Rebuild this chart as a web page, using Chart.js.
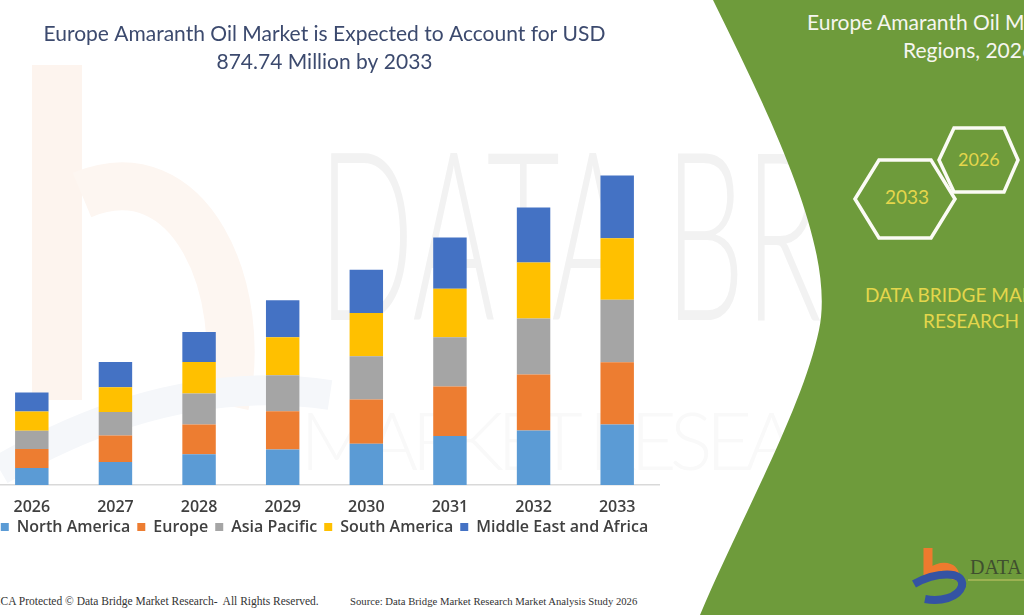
<!DOCTYPE html>
<html>
<head>
<meta charset="utf-8">
<script src="https://cdn.jsdelivr.net/npm/chart.js@4.4.1/dist/chart.umd.min.js"></script>
<style>
  html, body { margin: 0; padding: 0; }
  body { width: 1024px; height: 615px; overflow: hidden; position: relative; background: #fff; font-family: Lato, sans-serif; }
  #bg { position: absolute; left: 0; top: 0; }
  #wrap { position: absolute; left: -40px; top: 0; width: 740px; height: 545px; }
  .txt { position: absolute; white-space: nowrap; }
  .side { color: #f6f6f0; font-size: 21px; }
  .brand { color: #e4d64c; font-size: 19px; }
  .foot { font-family: "Liberation Serif", serif; font-size: 11px; color: #333; top: 595px; }
</style>
</head>
<body>
<svg id="bg" width="1024" height="615">
  <!-- faded logo watermark -->
  <path d="M57,65 L57,400" stroke="#fdf4ee" stroke-width="50" fill="none"/>
  <path d="M82,195 C190,150 250,290 225,405" stroke="#fdf6f1" stroke-width="48" fill="none"/>
  <path d="M0,470 C120,400 230,380 330,395" stroke="#f5f7fa" stroke-width="30" fill="none"/>
  <text x="318" y="320" font-family="Lato" font-weight="300" font-size="236" fill="#f2f2f2"
        textLength="800" lengthAdjust="spacingAndGlyphs">DATA BRIDGE</text>
  <text x="300" y="470" font-family="Lato" font-weight="300" font-size="80" fill="#f9f9f9"
        textLength="640" lengthAdjust="spacing">MARKET RESEARCH</text>
  <!-- green panel -->
  <path d="M713,0 C772,120 836,250 819,330 C802,410 740,520 700,615 L1024,615 L1024,0 Z" fill="#6e9b3b"/>
  <!-- hexagons -->
  <polygon points="855,199 879,160 931,160 955,199 931,238 879,238" fill="none" stroke="#fbfbf5" stroke-width="3.5"/>
  <polygon points="939,160 954,128 1004,128 1018,160 1004,192 954,192" fill="none" stroke="#fbfbf5" stroke-width="3.5"/>
  <!-- small logo -->
  <path d="M928,548 L928,575" stroke="#ee7a2e" stroke-width="9" fill="none"/>
  <path d="M930,572 C945,562 958,568 955,580" stroke="#ee7a2e" stroke-width="8" fill="none"/>
  <path d="M914,584 C935,572 965,570 962,586 C958,598 940,602 925,599" stroke="#3453a3" stroke-width="8" fill="none"/>
  <line x1="968" y1="580" x2="1024" y2="580" stroke="#c9c96a" stroke-width="1"/>
</svg>

<div class="txt side" style="left:807px; top:9px;">Europe Amaranth Oil Market, By</div>
<div class="txt side" style="left:903px; top:37px;">Regions, 2026 to 2033</div>
<div class="txt brand" style="left:885px; top:185px;">2033</div>
<div class="txt brand" style="left:958px; top:148px; font-size:18px;">2026</div>
<div class="txt brand" style="left:865px; top:283px;">DATA BRIDGE MARKET</div>
<div class="txt brand" style="left:923px; top:309px;">RESEARCH</div>
<div class="txt" style="left:970px; top:556px; font-family:'Liberation Serif',serif; font-size:20px; color:#3f4f2f;">DATA BRIDGE</div>
<div class="txt foot" style="left:-18px; font-size:11.5px;">DMCA Protected © Data Bridge Market Research-&nbsp; All Rights Reserved.</div>
<div class="txt foot" style="left:350px; font-size:10.7px;">Source: Data Bridge Market Research Market Analysis Study 2026</div>

<div id="wrap"><canvas id="marketChart"></canvas></div>

<script>
// values in USD million
const years = ['2026', '2027', '2028', '2029', '2030', '2031', '2032', '2033'];
const northAmerica = [48.0, 64.9, 86.6, 100.7, 116.6, 138.3, 154.4, 171.3];
const europe = [53.6, 75.3, 84.7, 108.1, 125.3, 140.3, 158.0, 175.8];
const asiaPacific = [51.6, 65.8, 87.5, 101.6, 122.2, 139.1, 158.0, 176.9];
const southAmerica = [54.5, 70.5, 89.2, 107.2, 122.2, 137.4, 158.9, 173.8];
const middleEastAfrica = [53.6, 71.4, 84.7, 104.4, 122.5, 144.8, 155.2, 176.9];

const labelFont = { family: "'Open Sans', sans-serif", size: 16, weight: '600', lineHeight: 1 };

const ctx = document.getElementById('marketChart').getContext('2d');

new Chart(ctx, {
  type: 'bar',
  data: {
    labels: years,
    datasets: [
      { label: 'North America', data: northAmerica, backgroundColor: '#5b9bd5' },
      { label: 'Europe', data: europe, backgroundColor: '#ed7d31' },
      { label: 'Asia Pacific', data: asiaPacific, backgroundColor: '#a5a5a5' },
      { label: 'South America', data: southAmerica, backgroundColor: '#ffc000' },
      { label: 'Middle East and Africa', data: middleEastAfrica, backgroundColor: '#4472c4' }
    ]
  },
  options: {
    responsive: true,
    maintainAspectRatio: false,
    animation: false,
    categoryPercentage: 0.8,
    barPercentage: 0.5,
    layout: { padding: { left: 30, right: 41, top: 0, bottom: 0 } },
    plugins: {
      title: {
        display: true,
        text: ['Europe Amaranth Oil Market is Expected to Account for USD', '874.74 Million by 2033'],
        color: '#3c4a6e',
        font: { family: 'Lato, sans-serif', size: 21, weight: 'normal', lineHeight: 1.3 },
        padding: { top: 21, bottom: 10 }
      },
      legend: {
        position: 'bottom',
        labels: {
          boxWidth: 8,
          boxHeight: 8,
          padding: 7,
          color: '#404040',
          font: labelFont
        }
      },
      tooltip: { enabled: false }
    },
    scales: {
      x: {
        stacked: true,
        grid: { display: false, drawTicks: false },
        border: { color: '#d9d9d9', width: 1.5 },
        ticks: { color: '#404040', font: labelFont, padding: 14, maxRotation: 0 },
        afterFit: function (scale) { scale.height = 27; }
      },
      y: {
        stacked: true,
        display: false,
        min: 0,
        max: 1129
      }
    }
  }
});
</script>
</body>
</html>
